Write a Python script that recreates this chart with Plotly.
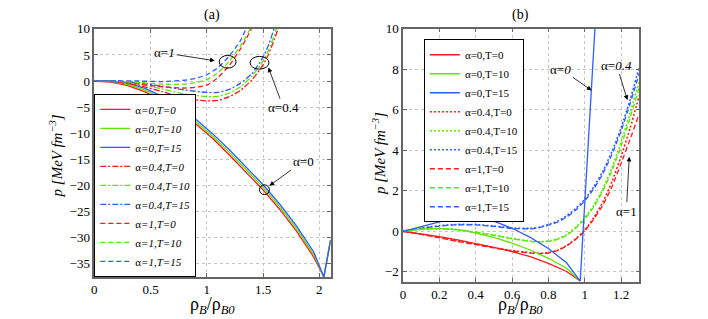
import plotly.graph_objects as go

# ---------------- data : panel (a) ----------------
a_x_alpha0 = [0, 0.15, 0.3, 0.45, 0.6, 0.75, 0.9, 1.05, 1.2, 1.35, 1.5, 1.65, 1.8, 1.95, 2.04, 2.1]
a_alpha0_T0 = [0, -0.2, -0.9, -2.1, -3.7, -5.8, -8.2, -11.0, -14.2, -17.5, -20.9, -24.7, -28.9, -33.8, -37.6, -30.5]
a_alpha0_T10 = [0, -0.12, -0.65, -1.75, -3.3, -5.35, -7.75, -10.55, -13.7, -17.0, -20.4, -24.2, -28.4, -33.3, -37.6, -30.5]
a_alpha0_T15 = [0, -0.05, -0.4, -1.4, -2.9, -4.9, -7.3, -10.1, -13.2, -16.5, -19.9, -23.7, -27.9, -32.8, -37.6, -30.5]

a_x_alpha04 = [0, 0.2, 0.4, 0.6, 0.8, 1.0, 1.1, 1.2, 1.3, 1.4, 1.5, 1.55, 1.6, 1.65, 1.7]
a_alpha04_T0 = [0, -0.15, -0.9, -2.0, -3.3, -3.8, -3.7, -3.0, -1.8, 0.2, 3.1, 5.2, 8.0, 11.0, 14.5]
a_alpha04_T10 = [0, -0.1, -0.6, -1.5, -2.5, -3.0, -2.95, -2.3, -1.1, 0.9, 3.8, 6.0, 8.8, 12.0, 15.5]
a_alpha04_T15 = [0, -0.05, -0.35, -1.0, -1.7, -2.2, -2.2, -1.6, -0.4, 1.4, 4.6, 7.0, 10.2, 13.5, 17.0]

a_x_alpha1 = [0, 0.2, 0.4, 0.6, 0.8, 0.9, 1.0, 1.1, 1.2, 1.3, 1.35, 1.4, 1.45]
a_alpha1_T0 = [0, -0.15, -0.6, -1.1, -1.35, -1.2, -0.8, 0.7, 3.0, 6.2, 8.1, 10.2, 12.5]
a_alpha1_T10 = [0, -0.05, -0.3, -0.6, -0.6, -0.3, 0.25, 1.6, 3.8, 6.8, 8.6, 10.7, 13.0]
a_alpha1_T15 = [0, 0.05, 0.0, -0.1, 0.15, 0.5, 1.2, 2.6, 4.8, 7.8, 10.1, 12.5, 15.0]

a_xticks = [0, 0.5, 1, 1.5, 2]
a_yticks = [-35, -30, -25, -20, -15, -10, -5, 0, 5, 10]

# ---------------- data : panel (b) ----------------
b_x_alpha0_T15 = [0, 0.1, 0.2, 0.3, 0.36, 0.4, 0.5, 0.6, 0.7, 0.8, 0.9, 0.975, 1.058]
b_x_alpha0 = [0, 0.1, 0.2, 0.3, 0.36, 0.4, 0.5, 0.6, 0.7, 0.8, 0.9, 0.975]
b_alpha0_T0 = [0, -0.12, -0.26, -0.42, -0.52, -0.6, -0.79, -1.0, -1.25, -1.58, -1.98, -2.45]
b_alpha0_T10 = [0, 0.12, 0.15, 0.08, 0.0, -0.08, -0.3, -0.58, -0.92, -1.33, -1.82, -2.45]
b_alpha0_T15 = [0, 0.25, 0.47, 0.64, 0.7, 0.68, 0.5, 0.15, -0.3, -0.85, -1.55, -2.45, 10.3]

b_x = [0, 0.1, 0.2, 0.3, 0.4, 0.5, 0.6, 0.7, 0.75, 0.8, 0.85, 0.9, 0.95, 1.0, 1.05, 1.1, 1.15, 1.2, 1.25, 1.3]
b_alpha04_T0 = [0, -0.14, -0.3, -0.47, -0.63, -0.8, -0.95, -1.05, -1.08, -1.05, -0.93, -0.7, -0.37, 0.06, 0.68, 1.45, 2.45, 3.7, 5.1, 6.7]
b_alpha04_T10 = [0, 0.1, 0.14, 0.08, -0.04, -0.18, -0.35, -0.48, -0.51, -0.48, -0.37, -0.16, 0.2, 0.66, 1.28, 2.1, 3.15, 4.4, 5.85, 7.4]
b_alpha04_T15 = [0, 0.16, 0.28, 0.34, 0.33, 0.26, 0.16, 0.15, 0.2, 0.33, 0.5, 0.76, 1.12, 1.58, 2.2, 2.97, 3.95, 5.1, 6.5, 8.1]
b_alpha1_T0 = [0, -0.15, -0.32, -0.5, -0.66, -0.82, -0.97, -1.07, -1.1, -1.07, -0.95, -0.72, -0.4, 0.02, 0.6, 1.3, 2.2, 3.35, 4.55, 5.8]
b_alpha1_T10 = [0, 0.1, 0.13, 0.07, -0.05, -0.2, -0.37, -0.5, -0.53, -0.5, -0.4, -0.2, 0.15, 0.6, 1.2, 2.0, 3.0, 4.2, 5.6, 7.1]
b_alpha1_T15 = [0, 0.15, 0.26, 0.32, 0.32, 0.24, 0.14, 0.12, 0.18, 0.3, 0.45, 0.7, 1.05, 1.5, 2.1, 2.85, 3.8, 4.95, 6.3, 7.8]

b_xticks = [0, 0.2, 0.4, 0.6, 0.8, 1, 1.2]
b_yticks = [-2, 0, 2, 4, 6, 8, 10]

# ---------------- style ----------------
RED = '#ff1a1a'
GREEN = '#5ce600'
BLUE = '#2f5cff'
FONT = 'Liberation Serif, Times New Roman, serif'
DASH = '5px,3px'
DASHDOT = '6px,2px,2px,2px'
DOT = '2px,2px'

fig = go.Figure()


def add(x, y, color, dash, name, xa, ya, legend, rank, shape='spline', width=1.3):
    fig.add_trace(go.Scatter(
        x=x, y=y, mode='lines', name=name, xaxis=xa, yaxis=ya, legend=legend, legendrank=rank,
        line=dict(color=color, dash=dash, width=width, shape=shape,
                  smoothing=0.6 if shape == 'spline' else None)))


# panel (a)
add(a_x_alpha0, a_alpha0_T0, RED, 'solid', 'α<i>=0,T=0</i>', 'x', 'y', 'legend', 1, 'linear')
add(a_x_alpha0, a_alpha0_T10, GREEN, 'solid', 'α<i>=0,T=10</i>', 'x', 'y', 'legend', 2, 'linear')
add(a_x_alpha0, a_alpha0_T15, BLUE, 'solid', 'α<i>=0,T=15</i>', 'x', 'y', 'legend', 3, 'linear')
add(a_x_alpha04, a_alpha04_T0, RED, DASHDOT, 'α<i>=0.4,T=0</i>', 'x', 'y', 'legend', 4)
add(a_x_alpha04, a_alpha04_T10, GREEN, DASHDOT, 'α<i>=0.4,T=10</i>', 'x', 'y', 'legend', 5)
add(a_x_alpha04, a_alpha04_T15, BLUE, DASHDOT, 'α<i>=0.4,T=15</i>', 'x', 'y', 'legend', 6)
add(a_x_alpha1, a_alpha1_T0, RED, DASH, 'α<i>=1,T=0</i>', 'x', 'y', 'legend', 7)
add(a_x_alpha1, a_alpha1_T10, GREEN, DASH, 'α<i>=1,T=10</i>', 'x', 'y', 'legend', 8)
add(a_x_alpha1, a_alpha1_T15, BLUE, DASH, 'α<i>=1,T=15</i>', 'x', 'y', 'legend', 9)

# panel (b) (solid α=0 drawn last so the steep blue branch sits on top; legend order kept by rank)
add(b_x, b_alpha04_T0, RED, DOT, 'α=0.4,T=0', 'x2', 'y2', 'legend2', 4, width=1.6)
add(b_x, b_alpha04_T10, GREEN, DOT, 'α=0.4,T=10', 'x2', 'y2', 'legend2', 5, width=1.6)
add(b_x, b_alpha04_T15, BLUE, DOT, 'α=0.4,T=15', 'x2', 'y2', 'legend2', 6, width=1.6)
add(b_x, b_alpha1_T0, RED, DASH, 'α=1,T=0', 'x2', 'y2', 'legend2', 7)
add(b_x, b_alpha1_T10, GREEN, DASH, 'α=1,T=10', 'x2', 'y2', 'legend2', 8)
add(b_x, b_alpha1_T15, BLUE, DASH, 'α=1,T=15', 'x2', 'y2', 'legend2', 9)
add(b_x_alpha0, b_alpha0_T0, RED, 'solid', 'α=0,T=0', 'x2', 'y2', 'legend2', 1, 'linear')
add(b_x_alpha0, b_alpha0_T10, GREEN, 'solid', 'α=0,T=10', 'x2', 'y2', 'legend2', 2, 'linear')
add(b_x_alpha0_T15, b_alpha0_T15, BLUE, 'solid', 'α=0,T=15', 'x2', 'y2', 'legend2', 3, 'linear')

axis_common = dict(showline=True, linecolor='#666666', linewidth=1.5, mirror='ticks',
                   ticks='inside', ticklen=4, tickcolor='#666666',
                   showgrid=True, gridcolor='#c4c4c4', griddash='dot', gridwidth=1,
                   zeroline=False, tickfont=dict(family=FONT, size=13, color='black'))

legend_common = dict(bordercolor='black', borderwidth=1, bgcolor='white',
                     font=dict(family=FONT, size=11, color='black'),
                     tracegroupgap=0, itemwidth=30, xanchor='left', traceorder='normal')

fig.update_layout(
    width=708, height=319, margin=dict(l=0, r=0, t=0, b=0),
    paper_bgcolor='white', plot_bgcolor='white',
    font=dict(family=FONT, size=13, color='black'),
    xaxis=dict(domain=[0.1295, 0.4647], range=[0, 2.1], tickvals=a_xticks, anchor='y', **axis_common),
    yaxis=dict(domain=[0.1348, 0.9298], range=[-37.6, 10], tickvals=a_yticks, anchor='x', **axis_common),
    xaxis2=dict(domain=[0.5674, 0.9025], range=[0, 1.3], tickvals=b_xticks, anchor='y2', **axis_common),
    yaxis2=dict(domain=[0.1185, 0.931], range=[-2.5, 10], tickvals=b_yticks, anchor='x2', **axis_common),
    legend=dict(x=0.1295, y=0.1348, yanchor='bottom', **legend_common),
    legend2=dict(x=0.597, y=0.8966, yanchor='top', **legend_common),
)

ann = []
# panel titles
ann.append(dict(text='(a)', x=210 / 708, y=1 - 8 / 319, xref='paper', yref='paper', showarrow=False,
                font=dict(size=14), xanchor='center', yanchor='middle'))
ann.append(dict(text='(b)', x=520 / 708, y=1 - 8 / 319, xref='paper', yref='paper', showarrow=False,
                font=dict(size=14), xanchor='center', yanchor='middle'))
# axis titles
ytitle = '<i>p [MeV fm<sup>−3</sup>]</i>'
ann.append(dict(text=ytitle, x=53 / 708, y=1 - 152 / 319, xref='paper', yref='paper', showarrow=False,
                textangle=-90, font=dict(size=15), xanchor='center', yanchor='middle'))
ann.append(dict(text=ytitle, x=377 / 708, y=1 - 150 / 319, xref='paper', yref='paper', showarrow=False,
                textangle=-90, font=dict(size=15), xanchor='center', yanchor='middle'))
xtitle = 'ρ<sub><i>B</i></sub>/ρ<sub><i>B0</i></sub>'
ann.append(dict(text=xtitle, x=210 / 708, y=0, xref='paper', yref='paper', showarrow=False,
                font=dict(size=18), xanchor='center', yanchor='bottom'))
ann.append(dict(text=xtitle, x=520 / 708, y=0, xref='paper', yref='paper', showarrow=False,
                font=dict(size=18), xanchor='center', yanchor='bottom'))

arrow = dict(showarrow=True, arrowhead=2, arrowsize=1.2, arrowwidth=0.8, arrowcolor='black',
             font=dict(size=13))
# panel (a) labels
ann.append(dict(text='α=<i>1</i>', x=1.071, y=3.9, ax=0.625, ay=5.4, xref='x', yref='y',
                axref='x', ayref='y', **arrow))
ann.append(dict(text='α=0.4', x=1.547, y=2.6, ax=1.68, ay=-5.1, xref='x', yref='y',
                axref='x', ayref='y', **arrow))
ann.append(dict(text='α=0', x=1.556, y=-20.1, ax=1.856, ay=-15.4, xref='x', yref='y',
                axref='x', ayref='y', **arrow))
# panel (b) labels
ann.append(dict(text='α=<i>0</i>', x=1.038, y=6.95, ax=0.869, ay=8.0, xref='x2', yref='y2',
                axref='x2', ayref='y2', **arrow))
ann.append(dict(text='α=<i>0.4</i>', x=1.235, y=6.47, ax=1.175, ay=8.2, xref='x2', yref='y2',
                axref='x2', ayref='y2', **arrow))
ann.append(dict(text='α=1', x=1.245, y=3.68, ax=1.229, ay=1.0, xref='x2', yref='y2',
                axref='x2', ayref='y2', **arrow))
fig.update_layout(annotations=ann)

# ellipses marking crossing points in (a)
ellipses = [(1.185, 3.69, 0.075, 1.22), (1.468, 3.5, 0.084, 1.22), (1.512, -20.87, 0.044, 0.94)]
for cx, cy, rx, ry in ellipses:
    fig.add_shape(type='circle', xref='x', yref='y', x0=cx - rx, x1=cx + rx, y0=cy - ry, y1=cy + ry,
                  line=dict(color='black', width=1))

fig.write_html('out.html', config={'displayModeBar': False},
               post_script="document.body.style.margin='0';document.body.style.padding='0';"
                           "document.documentElement.style.overflow='hidden';"
                           "var d=document.getElementById('{plot_id}');"
                           "d.style.position='fixed';d.style.top='0px';d.style.left='0px';")
